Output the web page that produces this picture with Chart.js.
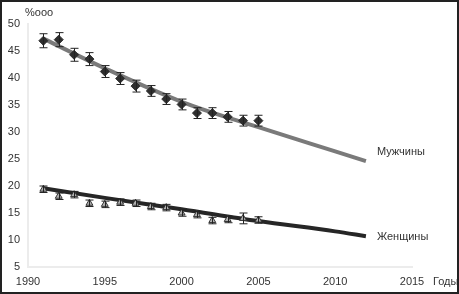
<!DOCTYPE html>
<html>
<head>
<meta charset="utf-8">
<script src="https://cdn.jsdelivr.net/npm/chart.js@4"></script>
<style>
  html, body { margin: 0; padding: 0; background: #fff; }
  #wrap { width: 459px; height: 294px; position: relative; }
</style>
</head>
<body>
<div id="wrap"><canvas id="c"></canvas></div>
<script>
const years = [1991, 1992, 1993, 1994, 1995, 1996, 1997, 1998, 1999, 2000, 2001, 2002, 2003, 2004, 2005];
const menRate = [46.9, 47.1, 44.3, 43.5, 41.2, 39.9, 38.5, 37.6, 36.1, 35.1, 33.5, 33.5, 32.8, 32.1, 32.1];
const menErr = [1.3, 1.3, 1.2, 1.2, 1.1, 1.1, 1.1, 1.0, 1.0, 1.0, 1.0, 1.0, 1.0, 1.0, 1.0];
const womenRate = [19.4, 18.1, 18.4, 16.8, 16.6, 17.0, 16.8, 16.2, 16.0, 15.0, 14.7, 13.6, 13.8, 14.0, 13.7];
const womenErr = [0.6, 0.6, 0.6, 0.6, 0.6, 0.6, 0.6, 0.6, 0.6, 0.6, 0.6, 0.6, 0.6, 1.0, 0.6];

const trendYears = [1991, 1995, 2000, 2005, 2010, 2012];
const menTrend = [47.3, 41.8, 35.6, 30.9, 26.4, 24.6];
const womenTrend = [19.6, 17.8, 15.7, 13.5, 11.6, 10.7];

const menLabel = 'Мужчины';
const womenLabel = 'Женщины';
const xTitle = 'Годы';
const yTitle = '%ооо';

const FONT = "'Liberation Sans', Arial, sans-serif";
const TEXT = '#333';

const toXY = (xs, ys) => xs.map((x, i) => ({ x: x, y: ys[i] }));

// error bars drawn through the scales
const errorBars = {
    id: 'errorBars',
    afterDatasetsDraw(chart) {
        const { ctx, scales: { x, y } } = chart;
        ctx.save();
        ctx.strokeStyle = '#222';
        ctx.lineWidth = 1;
        chart.data.datasets.forEach(ds => {
            if (!ds.errors) return;
            ds.data.forEach((p, i) => {
                const px = Math.round(x.getPixelForValue(p.x)) + 0.5;
                const top = y.getPixelForValue(p.y + ds.errors[i]);
                const bot = y.getPixelForValue(p.y - ds.errors[i]);
                ctx.beginPath();
                ctx.moveTo(px, top); ctx.lineTo(px, bot);
                ctx.moveTo(px - 4, top); ctx.lineTo(px + 4, top);
                ctx.moveTo(px - 4, bot); ctx.lineTo(px + 4, bot);
                ctx.stroke();
            });
        });
        ctx.restore();
    }
};

const labelsAndFrame = {
    id: 'labelsAndFrame',
    afterDraw(chart) {
        const { ctx, chartArea, scales: { x, y } } = chart;
        ctx.save();
        ctx.font = '11px ' + FONT;
        ctx.fillStyle = TEXT;
        ctx.textBaseline = 'middle';
        ctx.textAlign = 'left';
        const endX = x.getPixelForValue(trendYears[trendYears.length - 1]) + 11;
        ctx.fillText(menLabel, endX, y.getPixelForValue(menTrend[menTrend.length - 1]) - 9);
        ctx.fillText(womenLabel, endX, y.getPixelForValue(womenTrend[womenTrend.length - 1]) + 1);
        ctx.fillText(xTitle, chartArea.right + 21, chartArea.bottom + 15);
        ctx.fillText(yTitle, chartArea.left - 3, chartArea.top - 11);

        ctx.strokeStyle = '#222';
        ctx.lineWidth = 2;
        ctx.strokeRect(1, 1, chart.width - 2, chart.height - 2);
        ctx.restore();
    }
};

new Chart(document.getElementById('c'), {
    type: 'scatter',
    data: {
        datasets: [
            {
                data: toXY(trendYears, menTrend),
                showLine: true,
                borderColor: '#7a7a7a',
                borderWidth: 4,
                pointRadius: 0,
                cubicInterpolationMode: 'monotone',
                order: 3
            },
            {
                data: toXY(trendYears, womenTrend),
                showLine: true,
                borderColor: '#262626',
                borderWidth: 4,
                pointRadius: 0,
                cubicInterpolationMode: 'monotone',
                order: 3
            },
            {
                data: toXY(years, menRate),
                errors: menErr,
                pointStyle: 'rectRot',
                pointRadius: 4.5,
                backgroundColor: '#2e2e2e',
                borderColor: '#2e2e2e',
                order: 1
            },
            {
                data: toXY(years, womenRate),
                errors: womenErr,
                pointStyle: 'triangle',
                pointRadius: 4,
                backgroundColor: '#b0b0b0',
                borderColor: '#333',
                borderWidth: 1,
                order: 1
            }
        ]
    },
    options: {
        responsive: true,
        maintainAspectRatio: false,
        animation: false,
        layout: { padding: { top: 24, right: 47, left: 0, bottom: 0 } },
        scales: {
            x: {
                type: 'linear',
                min: 1990,
                max: 2015,
                grid: { display: false, drawTicks: false },
                border: { color: '#ececec', width: 2 },
                afterFit: s => { s.height = 27; },
                ticks: {
                    stepSize: 5,
                    padding: 8,
                    color: TEXT,
                    font: { family: FONT, size: 11 },
                    callback: v => String(v)
                }
            },
            y: {
                min: 5,
                max: 50,
                grid: { display: false, drawTicks: false },
                border: { color: '#ececec', width: 2 },
                afterFit: s => { s.width = 28; },
                ticks: {
                    stepSize: 5,
                    padding: 8,
                    color: TEXT,
                    font: { family: FONT, size: 11 }
                }
            }
        },
        plugins: {
            legend: { display: false },
            tooltip: { enabled: false }
        }
    },
    plugins: [errorBars, labelsAndFrame]
});
</script>
</body>
</html>
